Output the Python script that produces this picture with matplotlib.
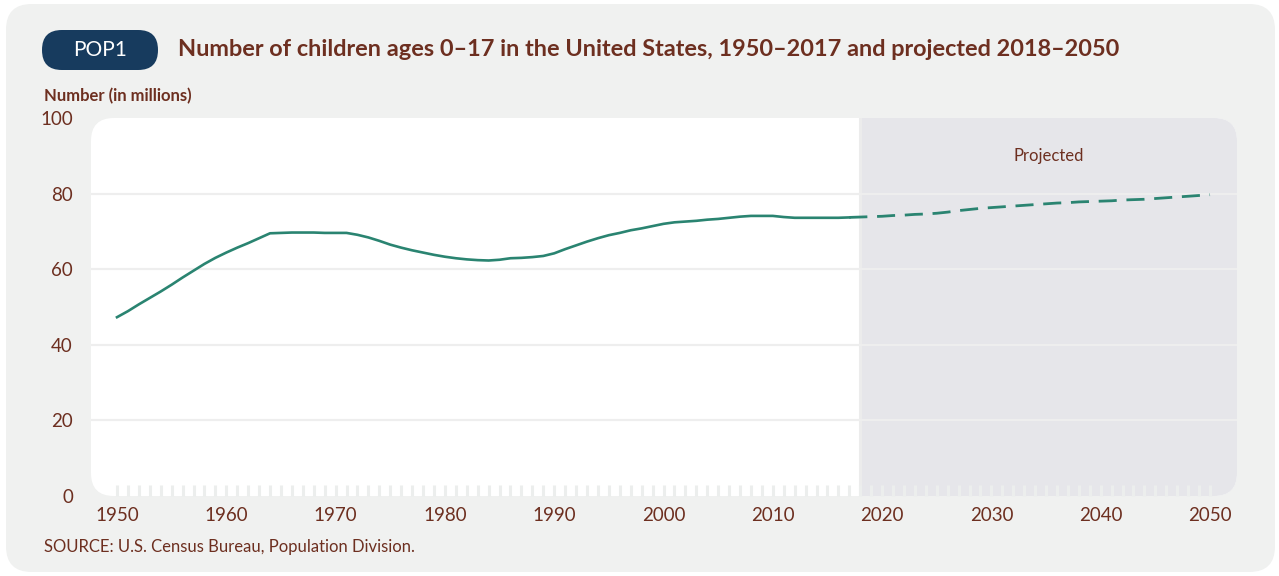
import matplotlib
matplotlib.use("Agg")
import matplotlib.pyplot as plt
from matplotlib.patches import FancyBboxPatch

plt.rcParams['font.family'] = ['Lato', 'DejaVu Sans']

hist_years = list(range(1950, 2018))
hist_values = [47.3, 48.9, 50.7, 52.4, 54.1, 55.9, 57.8, 59.6, 61.4, 63.0,
               64.4, 65.7, 66.9, 68.2, 69.5, 69.6, 69.7, 69.7, 69.7, 69.6,
               69.6, 69.6, 69.1, 68.4, 67.5, 66.5, 65.7, 65.0, 64.4, 63.8,
               63.3, 62.9, 62.6, 62.4, 62.3, 62.5, 62.9, 63.0, 63.2, 63.5,
               64.2, 65.3, 66.3, 67.3, 68.2, 69.0, 69.6, 70.3, 70.8, 71.4,
               72.0, 72.4, 72.6, 72.8, 73.1, 73.3, 73.6, 73.9, 74.1, 74.1,
               74.1, 73.8, 73.6, 73.6, 73.6, 73.6, 73.6, 73.7]
proj_years = list(range(2017, 2051))
proj_values = [73.7, 73.8, 73.9, 74.0, 74.2, 74.3, 74.5, 74.6, 74.8, 75.1,
               75.5, 75.8, 76.1, 76.3, 76.5, 76.7, 76.9, 77.1, 77.3, 77.5,
               77.6, 77.8, 77.9, 78.0, 78.1, 78.3, 78.4, 78.5, 78.7, 78.9,
               79.1, 79.3, 79.5, 79.7]
x_ticks = [1950, 1960, 1970, 1980, 1990, 2000, 2010, 2020, 2030, 2040, 2050]
y_ticks = [0, 20, 40, 60, 80, 100]
proj_start = 2018

W, H = 1279, 576
fig = plt.figure(figsize=(W / 100, H / 100), dpi=100)
fig.patch.set_facecolor('white')

BROWN = '#6d2f20'
TEAL = '#2a8471'
BG = '#f0f1f0'

# outer card
card = FancyBboxPatch((6 / W, 4 / H), (W - 10) / W, (H - 8) / H,
                      boxstyle="round,pad=0,rounding_size=0.02",
                      transform=fig.transFigure, facecolor=BG, edgecolor='none',
                      mutation_aspect=W / H, zorder=-10)
fig.patches.append(card)

# badge
badge = FancyBboxPatch((42 / W, (H - 70) / H), 116 / W, 40 / H,
                       boxstyle="round,pad=0,rounding_size=0.0155",
                       transform=fig.transFigure, facecolor='#173b5e', edgecolor='none',
                       mutation_aspect=W / H, zorder=-5)
fig.patches.append(badge)
fig.text(100 / W, 1 - 50 / H, 'POP1', color='white', fontsize=15,
         ha='center', va='center')
fig.text(178 / W, 1 - 49 / H,
         'Number of children ages 0\u201317 in the United States, 1950\u20132017 and projected 2018\u20132050',
         color=BROWN, fontsize=16.9, fontweight='bold', ha='left', va='center')
fig.text(44 / W, 1 - 96 / H, 'Number (in millions)', color=BROWN, fontsize=12,
         fontweight='bold', ha='left', va='center')
fig.text(44 / W, 1 - 547 / H, 'SOURCE: U.S. Census Bureau, Population Division.',
         color=BROWN, fontsize=12, ha='left', va='center')

left, right, top, bottom = 91, 1237, 118, 496
ax = fig.add_axes([left / W, 1 - bottom / H, (right - left) / W, (bottom - top) / H])
ax.set_facecolor('none')
xmin = 1950 - 26 / 10.93
xmax = 2050 + 27 / 10.93
ax.set_xlim(xmin, xmax)
ax.set_ylim(0, 100)
for s in ax.spines.values():
    s.set_visible(False)

area = FancyBboxPatch((0, 0), 1, 1, boxstyle="round,pad=0,rounding_size=0.02",
                      transform=ax.transAxes, facecolor='white', edgecolor='none',
                      mutation_aspect=(right - left) / (bottom - top), zorder=0)
ax.add_patch(area)
span = ax.axvspan(proj_start, xmax, facecolor='#e6e6ea', edgecolor='none', zorder=0.5)
span.set_clip_path(area)
ax.axvline(proj_start, color='#ececec', lw=2.2, zorder=0.6)

for yv in y_ticks[1:-1]:
    ax.axhline(yv, color='#eeeeee', lw=1.6, zorder=0.7)

ax.plot(hist_years, hist_values, color=TEAL, lw=1.9, zorder=3,
        solid_joinstyle='round')
ax.plot(proj_years, proj_values, color=TEAL, lw=2.0, zorder=3,
        dashes=(6.5, 3.5))

ax.text((proj_start + xmax) / 2, 90, 'Projected', color=BROWN, fontsize=12,
        ha='center', va='center')

ax.set_xticks(x_ticks)
ax.set_xticks(list(range(1950, 2051)), minor=True)
ax.set_yticks(y_ticks)
ax.tick_params(axis='x', which='both', direction='in', length=8, width=2.2,
               color='#eceeed', labelcolor=BROWN, labelsize=13.5, pad=8)
ax.tick_params(axis='y', length=0, labelcolor=BROWN, labelsize=13.5, pad=13)
for t in ax.xaxis.get_major_ticks() + ax.xaxis.get_minor_ticks():
    t.tick1line.set_zorder(4)

fig.savefig('out.png', dpi=100, facecolor=fig.get_facecolor())
